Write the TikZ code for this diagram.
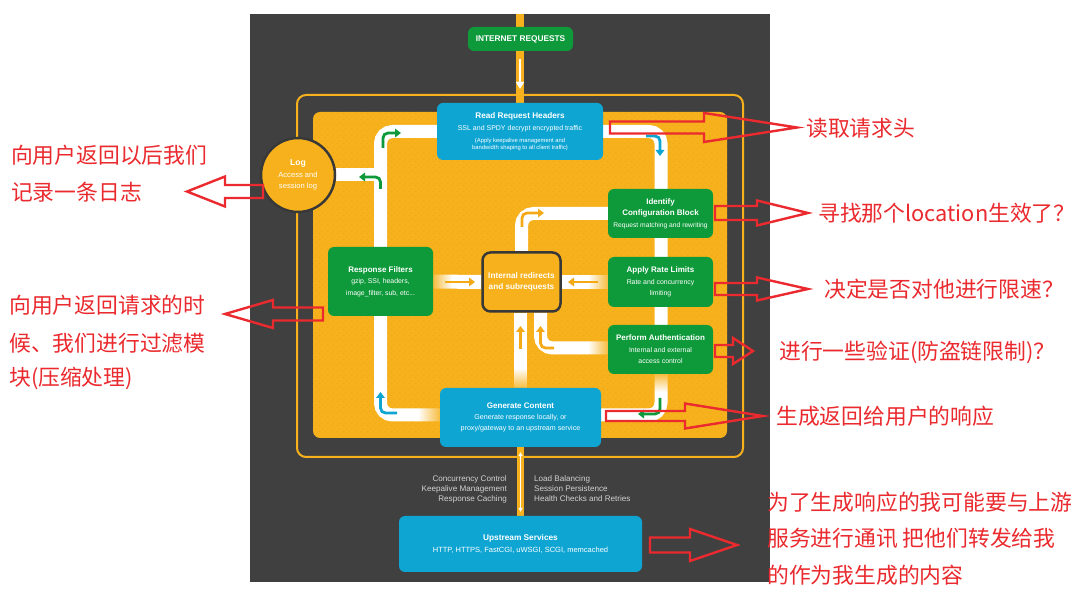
\documentclass[tikz,border=0pt]{standalone}
\usepackage{fontspec}
\setmainfont{Liberation Sans}
\newfontfamily\cjk{Noto Sans CJK SC}
\usetikzlibrary{arrows.meta,patterns.meta,fadings}
\definecolor{bgdark}{HTML}{404040}
\definecolor{ngyellow}{HTML}{F6B11C}
\definecolor{ngarrow}{HTML}{F4AA16}
\definecolor{ngdots}{HTML}{EAA515}
\definecolor{ngblue}{HTML}{0EA5D3}
\definecolor{nggreen}{HTML}{0E9A3B}
\definecolor{ngborder}{HTML}{383838}
\definecolor{annred}{HTML}{EA2A2E}
\definecolor{lightgray}{HTML}{D2D2D2}
\newcommand\fsz[2]{\fontsize{#1}{#2}\selectfont}
\pgfdeclarelayer{back}
\pgfsetlayers{back,main}
\pgfdeclarepattern{name=ngdot, type=uncolored,
  bottom left={\pgfpoint{0pt}{0pt}}, top right={\pgfpoint{6pt}{6pt}},
  tile size={\pgfpoint{6pt}{6pt}},
  code={\pgfpathcircle{\pgfpoint{1.5pt}{1.5pt}}{0.6pt}\pgfpathcircle{\pgfpoint{4.5pt}{4.5pt}}{0.6pt}\pgfusepath{fill}}}
\tikzfading[name=opqleft, left color=transparent!15, right color=transparent!100]
\tikzfading[name=opqright, left color=transparent!100, right color=transparent!15]
\tikzfading[name=opqbottom, top color=transparent!100, bottom color=transparent!15]
\tikzfading[name=opqtop, top color=transparent!15, bottom color=transparent!100]
\newcommand\annarr[6]{\draw[redarr] (#1,#4-#5) -- (#2,#4-#5) -- (#2,#4-#6) -- (#3,#4) -- (#2,#4+#6) -- (#2,#4+#5) -- (#1,#4+#5) -- cycle;}
\newcommand\ttlfont{\bfseries\fsz{8}{9}}
\tikzset{
  ngbox/.style={rounded corners=6pt, inner sep=0pt, text=white, align=center, font=\fsz{6.9}{11.5}},
  bluebox/.style={ngbox, fill=ngblue},
  greenbox/.style={ngbox, fill=nggreen},
  wpath/.style={draw=white, line width=13pt, rounded corners=12pt},
  sarr/.style={line width=2.8pt, rounded corners=5pt, -{Triangle[length=6pt,width=8.5pt]}},
  redarr/.style={draw=annred, line width=2.4pt, line join=miter},
  redtxt/.style={text=annred, font=\cjk\fsz{21.8}{25}, anchor=west, inner sep=0pt},
  sidetxt/.style={text=lightgray, font=\fsz{8.1}{10}, inner sep=0pt}
}
\begin{document}
\begin{tikzpicture}[x=1pt,y=-1pt]
\useasboundingbox (0,0) rectangle (1088,601);

% ---------- nodes ----------
\node[greenbox, minimum width=105pt, minimum height=24pt] (inet) at (520.5,39) {\bfseries\fsz{8.3}{9}INTERNET REQUESTS};
\node[bluebox, minimum width=166pt, minimum height=57pt, font=\fsz{7}{12}] (rrh) at (520,131.5)
  {{\bfseries\fsz{8.2}{9}Read Request Headers}\\
   SSL and SPDY decrypt encrypted traffic\\
   {\fsz{5.85}{7}(Apply keepalive management and}\\[-5pt]
   {\fsz{5.85}{7}bandwidth shaping to all client traffic)}};
\node[greenbox, minimum width=105pt, minimum height=49pt] (idc) at (660.5,213.5)
  {{\ttlfont Identify}\\[-0.5pt]{\ttlfont Configuration Block}\\[0.5pt]{\fsz{6.7}{8}Request matching and rewriting}};
\node[greenbox, minimum width=105pt, minimum height=50pt] (arl) at (660.5,282)
  {{\ttlfont Apply Rate Limits}\\Rate and concurrency\\limiting};
\node[greenbox, minimum width=105pt, minimum height=49pt] (pau) at (660.5,349.5)
  {{\ttlfont Perform Authentication}\\Internal and external\\access control};
\node[greenbox, minimum width=105pt, minimum height=69pt] (rf) at (380.5,281.5)
  {{\ttlfont Response Filters}\\gzip, SSI, headers,\\image\_filter, sub, etc...};
\node[ngbox, fill=ngyellow, draw=ngborder, line width=2.5pt, rounded corners=8pt,
      minimum width=78pt, minimum height=59pt, font=\bfseries\fsz{8.2}{11}] (ir) at (521.5,282)
  {Internal redirects\\and subrequests};
\node[bluebox, minimum width=161pt, minimum height=59pt, font=\fsz{7.1}{11.2}] (gc) at (520.5,417.5)
  {{\ttlfont Generate Content}\\Generate response locally, or\\proxy/gateway to an upstream service};
\node[bluebox, minimum width=243pt, minimum height=56pt] (us) at (520.5,544)
  {{\bfseries\fsz{8.3}{9}Upstream Services}\\{\fsz{7.5}{9}HTTP, HTTPS, FastCGI, uWSGI, SCGI, memcached}};
\node[circle, fill=ngyellow, draw=ngborder, line width=2.5pt, minimum size=74pt, inner sep=0pt,
      text=white, align=center, font=\fsz{7.6}{11.5}] (log) at (298,175)
  {{\bfseries\fsz{8.6}{9}Log}\\Access and\\session log};

\node[sidetxt, anchor=east, align=right] (lefttxt) at (507,489)
  {Concurrency Control\\Keepalive Management\\Response Caching};
\node[sidetxt, anchor=west, align=left] (righttxt) at (534,489)
  {Load Balancing\\Session Persistence\\Health Checks and Retries};

% ---------- background layer ----------
\begin{pgfonlayer}{back}
\fill[white] (0,0) rectangle (1088,601);
\fill[bgdark] (250,14) rectangle (770,582);
\draw[ngyellow, line width=2pt, rounded corners=9pt] (297,95) rectangle (743,457);
\fill[ngyellow, rounded corners=7pt] (313,112) rectangle (727,438);
\fill[pattern=ngdot, pattern color=ngdots, rounded corners=7pt] (313,112) rectangle (727,438);
% yellow trunk lines
\draw[ngyellow, line width=7.5pt] (520,14) -- (rrh.north);
\draw[ngyellow, line width=7.5pt] (gc.south) -- (us.north);
% main loop
\draw[wpath] (rrh.west) -- (380.5,131.5) -- (380.5,415) -- (gc.west |- 0,415);
\draw[wpath] (rrh.east) -- (661,131.5) -- (661,415) -- (gc.east |- 0,415);
\draw[wpath] (log.east) -- (380.5,175);
% internal paths
\draw[wpath, line width=13pt] (idc.west) -| (ir.north);
\draw[wpath, line width=14pt] (arl.west) -- (ir.east);
\draw[wpath, line width=14pt] (rf.east) -- (ir.west);
\draw[wpath] (gc.north) -- (gc.north |- ir.south);
\draw[wpath] (pau.west |- 0,348) -| ([xshift=19pt]ir.south);
% soft fades of the paths near the boxes
\fill[ngyellow, path fading=opqleft] (433,274) rectangle (452,290);
\fill[ngyellow, path fading=opqright] (588,274) rectangle (608,290);
\fill[ngyellow, path fading=opqright] (588,341) rectangle (608,355);
\fill[ngyellow, path fading=opqright] (418,408) rectangle (440,422);
\fill[ngyellow, path fading=opqbottom] (513,368) rectangle (528,388);
\fill[ngyellow, path fading=opqtop] (654,374) rectangle (668,392);
% small direction arrows
\draw[sarr, nggreen] (383,148) -- (383,133) -- (401,133);
\draw[sarr, nggreen] (380.5,189) -- (380.5,177) -- (359,177);
\draw[sarr, ngblue] (646,136) -- (660,136) -- (660,156);
\draw[sarr, ngblue] (397,413) -- (380.5,413) -- (380.5,392);
\draw[sarr, nggreen] (660,398) -- (660,414) -- (638,414);
\draw[sarr, ngarrow] (522,227) -- (522,213) -- (544,213);
\draw[sarr, ngarrow] (445,282) -- (475,282);
\draw[sarr, ngarrow] (598,282) -- (568,282);
\draw[sarr, ngarrow] (520.5,349) -- (520.5,326);
\draw[sarr, ngarrow] (554,348) -- (540.5,348) -- (540.5,326);
\end{pgfonlayer}

% trunk arrows
\coordinate (inA) at (520,59);
\coordinate (inB) at (520,89);
\draw[white, line width=2.4pt, -{Triangle[length=7pt,width=8pt]}] (inA) -- (inB);
\draw[white, line width=1pt, {Triangle[length=4pt,width=4pt]}-{Triangle[length=4pt,width=4pt]}] ([yshift=-5pt]gc.south) -- ([yshift=4pt]us.north);

% ---------- red annotations ----------
\annarr{610}{704}{797}{127.5}{6}{14.5}
\annarr{715}{757}{808}{213}{7}{12.5}
\annarr{715}{757}{808}{289}{6}{11.5}
\annarr{715}{733}{753}{351}{6}{13}
\annarr{606}{685}{763}{416}{5}{12.5}
\annarr{650}{690}{737}{545}{7.5}{16}
\annarr{263}{225}{187}{191.5}{6.5}{15}
\annarr{323}{273}{225}{314}{6.5}{14}

\node[redtxt] (t1) at (806,128) {读取请求头};
\node[redtxt] (t2) at (818,213) {寻找那个location生效了？};
\node[redtxt] (t3) at (824,289) {决定是否对他进行限速？};
\node[redtxt] (t4) at (779,352) {进行一些验证(防盗链限制)？};
\node[redtxt] (t5) at (776,416) {生成返回给用户的响应};
\node[redtxt] (t6a) at (767,502) {为了生成响应的我可能要与上游};
\node[redtxt] (t6b) at (767,538) {服务进行通讯 把他们转发给我};
\node[redtxt] (t6c) at (767,575) {的作为我生成的内容};
\node[redtxt] (t7a) at (11,155) {向用户返回以后我们};
\node[redtxt] (t7b) at (11,192) {记录一条日志};
\node[redtxt] (t8a) at (9,305) {向用户返回请求的时};
\node[redtxt] (t8b) at (9,343) {候、我们进行过滤模};
\node[redtxt] (t8c) at (9,378) {块(压缩处理)};
\end{tikzpicture}
\end{document}
